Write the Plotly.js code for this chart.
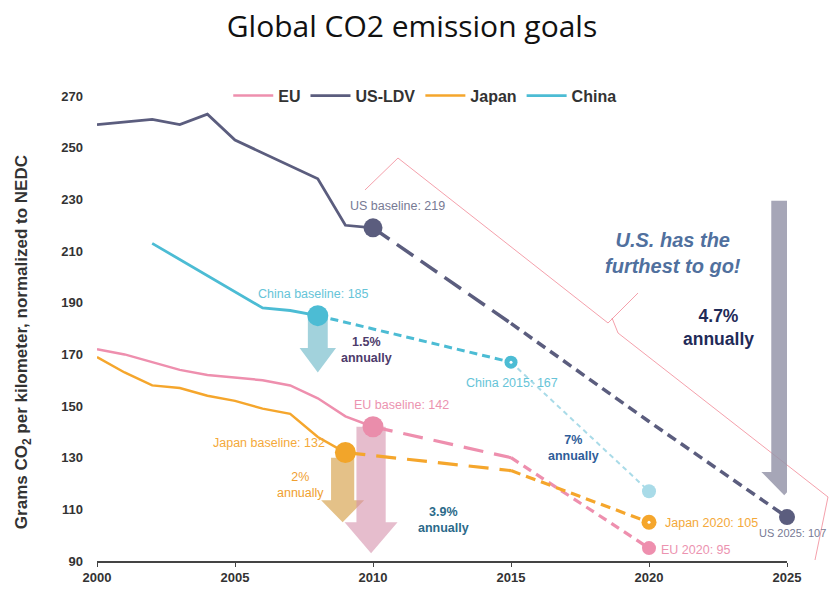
<!DOCTYPE html>
<html>
<head>
<meta charset="utf-8">
<script src="https://cdn.plot.ly/plotly-3.0.1.min.js"></script>
<style>html,body{margin:0;padding:0;background:#fff;}#chart{width:834px;height:590px;}</style>
</head>
<body>
<div id="chart"></div>
<script>
// ---------- data ----------
const euYears = [2000, 2001, 2002, 2003, 2004, 2005, 2006, 2007, 2008, 2009, 2010];
const euValues = [172, 170, 167, 164, 162, 161, 160, 158, 153, 146, 142];
const usYears = [2000, 2002, 2003, 2004, 2005, 2006, 2007, 2008, 2009, 2010];
const usValues = [259, 261, 259, 263, 253, 248, 243, 238, 220, 219];
const japanYears = [2000, 2001, 2002, 2003, 2004, 2005, 2006, 2007, 2008, 2009];
const japanValues = [169, 163, 158, 157, 154, 152, 149, 147, 138, 132];
const chinaYears = [2002, 2006, 2007, 2008];
const chinaValues = [213, 188, 187, 185];

const usTargetYears = [2010, 2015, 2020, 2025];
const usTargetValues = [219, 182, 144, 107];
const euTargetYears = [2010, 2015, 2020];
const euTargetValues = [142, 130, 95];
const japanTargetYears = [2009, 2015, 2020];
const japanTargetValues = [132, 125, 105];
const chinaTargetYears = [2008, 2015, 2020];
const chinaTargetValues = [185, 167, 117];

const seriesNames = ['EU', 'US-LDV', 'Japan', 'China'];
const annualRates = {EU: '3.9%', US: '4.7%', Japan: '2%', China: '1.5%', China2: '7%'};
const yTicks = [90, 110, 130, 150, 170, 190, 210, 230, 250, 270];
const xTicks = [2000, 2005, 2010, 2015, 2020, 2025];

// ---------- styles ----------
const C = {eu: '#ee8fae', us: '#5b5d7e', japan: '#f5a62c', china: '#4cbcd4', chinaLight: '#a9dbe8'};
const FONT = 'Liberation Sans, Arial, sans-serif';

const traces = [];
function line(x, y, color, width, dash, name, show) {
  traces.push({x: x, y: y, type: 'scatter', mode: 'lines', name: name || ' ',
    showlegend: !!show, hoverinfo: 'skip', cliponaxis: false,
    line: {color: color, width: width, dash: dash || 'solid'}});
}
function marker(x, y, color, size) {
  traces.push({x: [x], y: [y], type: 'scatter', mode: 'markers', showlegend: false, name: ' ',
    hoverinfo: 'skip', cliponaxis: false,
    marker: {color: color, size: size, line: {width: 0}}});
}

// solid history lines (legend order)
line(euYears, euValues, C.eu, 2.5, 'solid', seriesNames[0], true);
line(usYears, usValues, C.us, 2.8, 'solid', seriesNames[1], true);
line(japanYears, japanValues, C.japan, 2.5, 'solid', seriesNames[2], true);
line(chinaYears, chinaValues, C.china, 2.8, 'solid', seriesNames[3], true);

// dashed target lines
line(usTargetYears.slice(0, 2), usTargetValues.slice(0, 2), C.us, 3.5, '20px,9px');
line(usTargetYears.slice(1), usTargetValues.slice(1), C.us, 3.5, '10px,6px');
line(euTargetYears.slice(0, 2), euTargetValues.slice(0, 2), C.eu, 3.2, '20px,11px');
line(euTargetYears.slice(1), euTargetValues.slice(1), C.eu, 3.2, '9px,6px');
line(japanTargetYears.slice(0, 2), japanTargetValues.slice(0, 2), C.japan, 3.2, '20px,11px');
line(japanTargetYears.slice(1), japanTargetValues.slice(1), C.japan, 3.2, '10px,6px');
line(chinaTargetYears.slice(0, 2), chinaTargetValues.slice(0, 2), C.china, 3, '8px,5px');
line(chinaTargetYears.slice(1), chinaTargetValues.slice(1), C.chinaLight, 2, '5px,4px');

// markers
marker(usTargetYears[0], usTargetValues[0], C.us, 19);
marker(usTargetYears[3], usTargetValues[3], C.us, 16);
marker(chinaTargetYears[0], chinaTargetValues[0], C.china, 21);
marker(chinaTargetYears[1], chinaTargetValues[1], C.china, 13);
marker(chinaTargetYears[1], chinaTargetValues[1], '#ffffff', 3);
marker(chinaTargetYears[2], chinaTargetValues[2], C.chinaLight, 14);
marker(euTargetYears[0], euTargetValues[0], '#ea8dab', 21);
marker(euTargetYears[2], euTargetValues[2], C.eu, 14);
marker(japanTargetYears[0], japanTargetValues[0], '#f2a52a', 21);
marker(japanTargetYears[2], japanTargetValues[2], C.japan, 15);
marker(japanTargetYears[2], japanTargetValues[2], '#ffffff', 3);

// ---------- arrow shapes (decoration) ----------
function arrowPath(cx, top, headStart, tip, sh, hh) {
  return 'M' + (cx - sh) + ',' + top + ' L' + (cx + sh) + ',' + top +
    ' L' + (cx + sh) + ',' + headStart + ' L' + (cx + hh) + ',' + headStart +
    ' L' + cx + ',' + tip + ' L' + (cx - hh) + ',' + headStart +
    ' L' + (cx - sh) + ',' + headStart + ' Z';
}
const arrowDefs = [
  {cx: 2008.0, top: 185, hs: 172.5, tip: 163, sh: 0.36, hh: 0.66, color: 'rgba(112,186,202,0.65)'},
  {cx: 2008.9, top: 130, hs: 113.5, tip: 105, sh: 0.42, hh: 0.78, color: 'rgba(214,160,72,0.65)'},
  {cx: 2009.93, top: 142, hs: 105, tip: 93, sh: 0.53, hh: 0.96, color: 'rgba(214,145,172,0.6)'},
  {cx: 2024.9, top: 229.5, hs: 124.5, tip: 115.5, sh: 0.47, hh: 0.83, color: 'rgba(150,151,170,0.85)'}
];
const shapes = arrowDefs.map(a => ({type: 'path', xref: 'x', yref: 'y', layer: 'below',
  path: arrowPath(a.cx, a.top, a.hs, a.tip, a.sh, a.hh), fillcolor: a.color, line: {width: 0}}));

// thin red callout outline (paper coords)
shapes.push({type: 'path', xref: 'paper', yref: 'paper', layer: 'below',
  path: 'M0.3884,0.7894 L0.4362,0.8574 L0.7406,0.5064 L0.7841,0.5702 M0.7464,0.5170 L0.7551,0.4851 L1.0594,0.1362 L1.0406,0.0021',
  line: {color: 'rgba(240,120,135,0.7)', width: 1}});

// ---------- annotations ----------
function txt(x, y, text, color, size, opts) {
  return Object.assign({x: x, y: y, xref: 'x', yref: 'y', text: text, showarrow: false,
    font: {family: FONT, size: size, color: color}, xanchor: 'center', yanchor: 'middle'}, opts || {});
}
const LS = 12.5;
const annotations = [
  txt(2010.9, 227.4, 'US baseline: ' + usTargetValues[0], '#777a94', LS),
  txt(2007.83, 193.4, 'China baseline: ' + chinaTargetValues[0], '#66c4d8', LS),
  txt(2009.78, 171.7, '<b>' + annualRates.China + '<br>annually</b>', '#4d3b6b', 12.5),
  txt(2011.05, 150.4, 'EU baseline: ' + euTargetValues[0], '#ec93b0', LS),
  txt(2006.23, 135.7, 'Japan baseline: ' + japanTargetValues[0], '#f4a93a', LS),
  txt(2007.36, 119.4, annualRates.Japan + '<br>annually', '#f0a030', 12.5),
  txt(2012.54, 105.9, '<b>' + annualRates.EU + '<br>annually</b>', '#2b6a8a', 12.5),
  txt(2015.04, 158.9, 'China ' + chinaTargetYears[1] + ': ' + chinaTargetValues[1], '#66c4d8', LS),
  txt(2017.25, 133.7, '<b>' + annualRates.China2 + '<br>annually</b>', '#2f5d99', 12.5),
  txt(2022.28, 104.7, 'Japan ' + japanTargetYears[2] + ': ' + japanTargetValues[2], '#f4a93a', LS),
  txt(2021.7, 94.3, 'EU ' + euTargetYears[2] + ': ' + euTargetValues[2], '#ec93b0', LS),
  txt(2023.9, 100.8, 'US ' + usTargetYears[3] + ': ' + usTargetValues[3], '#777a94', 11, {xanchor: 'left'}),
  txt(2020.87, 209.2, '<b><i>U.S. has the<br>furthest to go!</i></b>', '#50709e', 20),
  txt(2022.5, 180.6, '<b>' + annualRates.US + '<br>annually</b>', '#1f2b58', 17.5),
  {xref: 'paper', yref: 'paper', x: -0.107, y: 0.466, textangle: -90, showarrow: false,
    text: '<b>Grams CO<sub>2</sub> per kilometer, normalized to NEDC</b>',
    font: {family: FONT, size: 17, color: '#333'}, xanchor: 'center', yanchor: 'middle'}
];

const layout = {
  width: 834, height: 590,
  margin: {l: 97, r: 47, t: 91, b: 29},
  paper_bgcolor: '#ffffff', plot_bgcolor: '#ffffff',
  title: {text: 'Global CO2 emission goals', x: 0.494, xanchor: 'center', y: 0.955, yanchor: 'middle',
    font: {family: 'Open Sans, Liberation Sans, sans-serif', size: 30, color: '#111'}},
  font: {family: FONT},
  xaxis: {range: [2000, 2025], tickvals: xTicks, ticktext: xTicks.map(String),
    showgrid: false, zeroline: false, showline: true, linecolor: '#444', linewidth: 1.5,
    ticks: 'outside', ticklen: 4, tickcolor: '#444',
    tickfont: {family: FONT, size: 13, color: '#333', weight: 'bold'}},
  yaxis: {range: [90, 272], tickvals: yTicks, ticktext: yTicks.map(String),
    showgrid: false, zeroline: false, showline: false, ticks: '', ticklabelstandoff: 13,
    tickfont: {family: FONT, size: 13, color: '#333', weight: 'bold'}},
  legend: {orientation: 'h', x: 0.475, xanchor: 'center', y: 0.99, yanchor: 'middle',
    bgcolor: 'rgba(0,0,0,0)', itemwidth: 40, traceorder: 'normal',
    font: {family: FONT, size: 16, color: '#333', weight: 'bold'}},
  shapes: shapes,
  annotations: annotations,
  showlegend: true
};

Plotly.newPlot('chart', traces, layout, {displayModeBar: false, staticPlot: true});
</script>
</body>
</html>
